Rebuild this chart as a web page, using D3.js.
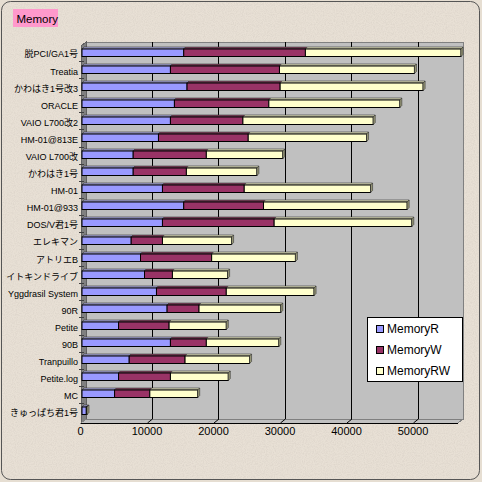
<!DOCTYPE html>
<html lang="ja">
<head>
<meta charset="UTF-8">
<title>Memory</title>
<script src="https://d3js.org/d3.v7.min.js"></script>
<style>
  body { margin: 0; background: #e6ded2; }
  svg { display: block; font-family: "Liberation Sans", "Noto Sans CJK JP", sans-serif; }
</style>
</head>
<body>
<svg width="482" height="482"></svg>
<script>
// data
var categories = ["脱PCI/GA1号", "Treatia", "かわはき1号改3", "ORACLE", "VAIO L700改2", "HM-01@813E",
    "VAIO L700改", "かわはき1号", "HM-01", "HM-01@933", "DOS/V君1号", "エレキマン", "アトリエB",
    "イトキンドライブ", "Yggdrasil System", "90R", "Petite", "90B", "Tranpuillo", "Petite.log", "MC", "きゅっぱち君1号"];
var memoryR  = [15300, 13300, 15800, 13900, 13300, 11500, 7700, 7700, 12100, 15300, 12100, 7400, 8800, 9400, 11200, 12800, 5500, 13300, 7100, 5500, 4900, 650];
var memoryW  = [18300, 16400, 14000, 14200, 10900, 13500, 11000, 8000, 12300, 12000, 16800, 4700, 10700, 4200, 10500, 4800, 7600, 5400, 8400, 7800, 5300, 50];
var memoryRW = [23400, 20300, 21500, 19700, 19600, 17800, 11500, 10600, 19000, 21600, 20700, 10400, 12600, 8300, 13200, 12300, 8600, 10900, 9700, 8700, 7200, 50];
var seriesNames = ["MemoryR", "MemoryW", "MemoryRW"];
var tickValues = [0, 10000, 20000, 30000, 40000, 50000];

var colors = {MemoryR: "#9999ff", MemoryW: "#993366", MemoryRW: "#ffffcc"};
var topColors = {MemoryR: "#a9a9dd", MemoryW: "#7d3b58", MemoryRW: "#e2e2bc"};
var endColors = {MemoryR: "#6c6ca8", MemoryW: "#5e2a40", MemoryRW: "#9a9a78"};

var rows = categories.map(function(c, i) {
    return {cat: c, MemoryR: memoryR[i], MemoryW: memoryW[i], MemoryRW: memoryRW[i]};
});

var svg = d3.select("svg");

// grainy paper texture
var f = svg.append("defs").append("filter").attr("id", "grain")
    .attr("x", 0).attr("y", 0).attr("width", "100%").attr("height", "100%");
f.append("feTurbulence").attr("type", "fractalNoise").attr("baseFrequency", 0.9).attr("numOctaves", 2).attr("seed", 4);
f.append("feColorMatrix").attr("type", "matrix")
    .attr("values", "0 0 0 0 0.55  0 0 0 0 0.5  0 0 0 0 0.45  0.6 0 0 0 -0.22");
f.append("feComposite").attr("in2", "SourceGraphic").attr("operator", "in");

// page background + rounded frame
svg.append("rect").attr("x", 1.5).attr("y", 1.5).attr("width", 478).attr("height", 478)
    .attr("rx", 9).attr("fill", "#e8e0d5");
svg.append("rect").attr("x", 1.5).attr("y", 1.5).attr("width", 478).attr("height", 478)
    .attr("rx", 9).attr("fill", "#fff").attr("filter", "url(#grain)");
svg.append("rect").attr("x", 1.5).attr("y", 1.5).attr("width", 478).attr("height", 478)
    .attr("rx", 9).attr("fill", "none").attr("stroke", "#555").attr("stroke-width", 1);

// title
svg.append("rect").attr("x", 13).attr("y", 9).attr("width", 45).attr("height", 18).attr("fill", "#ff99cc");
svg.append("text").attr("x", 16.5).attr("y", 18.5).attr("dominant-baseline", "central")
    .style("font-size", "11.5px").text("Memory");

// scales (front plane of the 3D box)
var x = d3.scaleLinear().domain([0, 56700]).range([81, 458]);
var y = d3.scaleBand().domain(categories).range([44, 420]);
var dx = 5, dy = -4;       // depth of the box
var top0 = 46, bot0 = 423;  // front plane vertical extent

var g = svg.append("g").attr("shape-rendering", "crispEdges");

// back wall
g.append("polygon")
    .attr("points", [[x.range()[0] + dx, top0 + dy], [x.range()[1] + dx, top0 + dy], [x.range()[1] + dx, bot0 + dy], [x.range()[0] + dx, bot0 + dy]].join(" "))
    .attr("fill", "#c0c0c0").attr("stroke", "#808080");
// left wall
g.append("polygon")
    .attr("points", [[x.range()[0], top0], [x.range()[0] + dx, top0 + dy], [x.range()[0] + dx, bot0 + dy], [x.range()[0], bot0]].join(" "))
    .attr("fill", "#808080").attr("stroke", "#606060");
// floor
g.append("polygon")
    .attr("points", [[x.range()[0], bot0], [x.range()[0] + dx, bot0 + dy], [x.range()[1] + dx, bot0 + dy], [x.range()[1], bot0]].join(" "))
    .attr("fill", "#c0c0c0").attr("stroke", "#808080");
g.append("line").attr("x1", x.range()[0]).attr("x2", x.range()[1]).attr("y1", bot0).attr("y2", bot0)
    .attr("stroke", "#000");

// gridlines
var grid = svg.append("g");
tickValues.slice(1).forEach(function(t) {
    grid.append("line").attr("x1", x(t) + dx).attr("x2", x(t) + dx).attr("y1", top0 + dy).attr("y2", bot0 + dy)
        .attr("stroke", "#000").attr("shape-rendering", "crispEdges");
    grid.append("line").attr("x1", x(t) + dx).attr("x2", x(t)).attr("y1", bot0 + dy).attr("y2", bot0)
        .attr("stroke", "#000");
});

// category ticks on the wall
categories.forEach(function(c, i) {
    if (i == 0) return;
    g.append("line").attr("x1", x.range()[0] - 2).attr("x2", x.range()[0] + 3)
        .attr("y1", Math.round(y(c))).attr("y2", Math.round(y(c))).attr("stroke", "#404040");
});

// stacked 3D bars
var stacked = d3.stack().keys(seriesNames)(rows);
var bw = y.bandwidth();
var bars = svg.append("g");
stacked.forEach(function(layer, k) {
    var key = layer.key;
    layer.forEach(function(d) {
        var c = Math.round(y(d.data.cat) + bw / 2);
        var x0 = x(d[0]) + 1, x1 = x(d[1]) + 1;
        var ft = c - 4, fb = c + 3.5;
        bars.append("polygon")
            .attr("points", [[x0, ft], [x0 + 2, ft - 2], [x1 + 2, ft - 2], [x1, ft]].join(" "))
            .attr("fill", topColors[key]).attr("stroke", "#333").attr("stroke-width", 0.6);
        bars.append("rect").attr("x", x0).attr("y", ft).attr("width", Math.max(0, x1 - x0)).attr("height", fb - ft)
            .attr("fill", colors[key]).attr("stroke", "#000").attr("stroke-width", 1);
        if (k == seriesNames.length - 1) {
            bars.append("polygon")
                .attr("points", [[x1, ft], [x1 + 2, ft - 2], [x1 + 2, fb - 2], [x1, fb]].join(" "))
                .attr("fill", endColors[key]).attr("stroke", "#333").attr("stroke-width", 0.6);
        }
    });
});

// category labels
var yAxis = svg.append("g").attr("transform", "translate(78,2)")
    .call(d3.axisLeft(y).tickSize(0).tickPadding(0));
yAxis.select(".domain").remove();
yAxis.selectAll("text").style("font-size", "9px").style("font-family", "\"Liberation Sans\", \"Noto Sans CJK JP\", sans-serif")
    .attr("fill", "#000");

// value axis labels
var xAxis = svg.append("g").attr("transform", "translate(-1," + (bot0 + 4) + ")")
    .call(d3.axisBottom(x).tickValues(tickValues).tickSize(0).tickPadding(0).tickFormat(d3.format("d")));
xAxis.select(".domain").remove();
xAxis.selectAll("text").style("font-size", "11px").style("font-family", "\"Liberation Sans\", sans-serif")
    .attr("fill", "#000");

// legend
var lg = svg.append("g").attr("transform", "translate(367,317)");
lg.append("rect").attr("width", 95).attr("height", 64).attr("fill", "#fff").attr("stroke", "#000")
    .attr("shape-rendering", "crispEdges");
seriesNames.forEach(function(s, i) {
    var cy = 11.5 + i * 21;
    lg.append("rect").attr("x", 9).attr("y", cy - 3.5).attr("width", 7).attr("height", 7)
        .attr("fill", colors[s]).attr("stroke", "#000").attr("shape-rendering", "crispEdges");
    lg.append("text").attr("x", 20).attr("y", cy).attr("dominant-baseline", "central")
        .style("font-size", "12px").text(s);
});
</script>
</body>
</html>
